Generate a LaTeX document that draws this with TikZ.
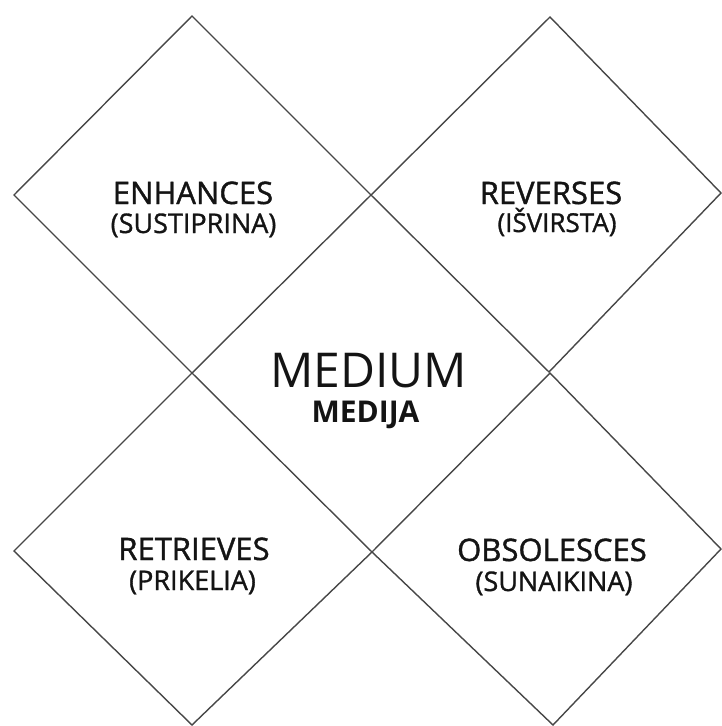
\documentclass[tikz,border=0pt]{standalone}
\usepackage{fontspec}
\setmainfont{Open Sans}
\newfontfamily\semifont{Open Sans}[FakeBold=1.2]
\begin{document}
\begin{tikzpicture}[x=1pt,y=-1pt,
  edge/.style={draw=black!72,line width=1.4pt,line join=miter},
  lbl/.style={inner sep=0pt,anchor=base,text=black!92},
  big/.style={lbl,font=\fontsize{48}{52}\selectfont},
  head/.style={lbl,font=\semifont\fontsize{31}{34}\selectfont},
  sub/.style={lbl,font=\semifont\fontsize{27}{30}\selectfont},
  subb/.style={lbl,font=\bfseries\fontsize{30}{32}\selectfont}]
\useasboundingbox (0,0) rectangle (722,726);
\clip (0,0) rectangle (722,726);
% four diamonds
\draw[edge] (192,16) -- (371,195) -- (192,373) -- (14,195) -- cycle;
\draw[edge] (550,17) -- (721,193) -- (549,372) -- (371,195) -- cycle;
\draw[edge] (192,373) -- (372,552) -- (192,725) -- (14,551) -- cycle;
\draw[edge] (550,373) -- (721,549) -- (553,725) -- (372,552) -- cycle;
% labels
\node[head] (enh) at (193,204) {ENHANCES};
\node[sub] (enhs) at (193.5,233) {(SUSTIPRINA)};
\node[head] (rev) at (551,204) {REVERSES};
\node[sub,font=\semifont\fontsize{26}{28}\selectfont] (revs) at (557,232) {(IŠVIRSTA)};
\node[head] (ret) at (194,560) {RETRIEVES};
\node[sub] (rets) at (192.5,590) {(PRIKELIA)};
\node[head] (obs) at (552,561) {OBSOLESCES};
\node[sub] (obss) at (554,591) {(SUNAIKINA)};
\node[big] (med) at (368.5,387) {MEDIUM};
\node[subb] (medl) at (365.5,422) {MEDIJA};
\end{tikzpicture}
\end{document}
